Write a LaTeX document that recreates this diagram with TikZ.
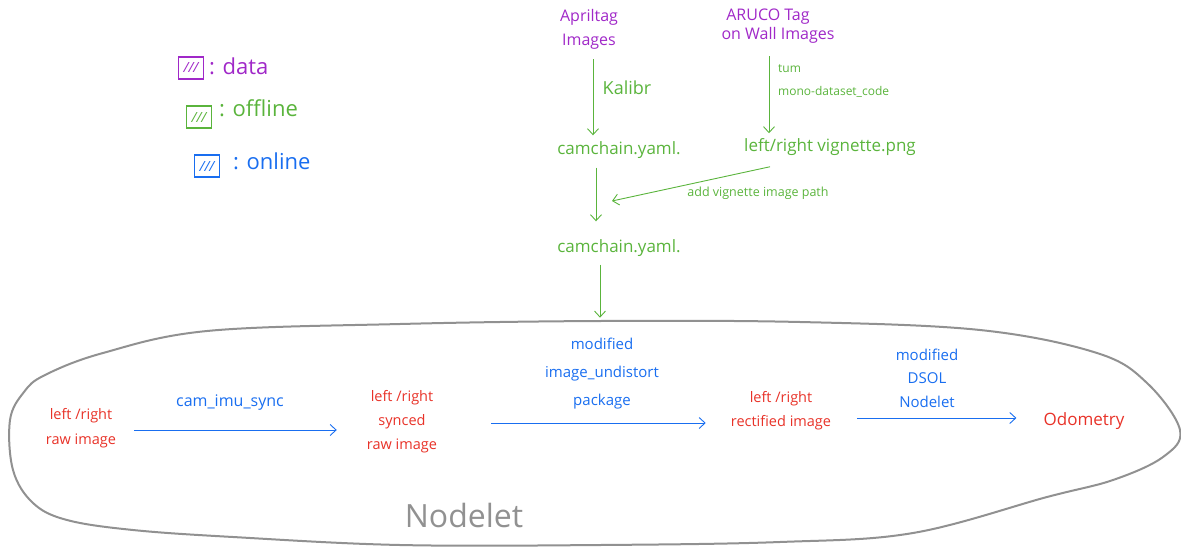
\documentclass[tikz,border=0pt]{standalone}
\usepackage{fontspec}
\setmainfont{Open Sans}
\usetikzlibrary{arrows.meta}
\definecolor{cdata}{RGB}{160,40,200}
\definecolor{coff}{RGB}{90,180,60}
\definecolor{con}{RGB}{25,110,240}
\definecolor{cout}{RGB}{232,50,40}
\definecolor{cgray}{RGB}{145,145,145}
\tikzset{
  fs/.style={font=\fontsize{#1}{#1}\selectfont},
  txt/.style={inner sep=1pt, align=center},
  arr/.style={-{Straight Barb[length=6pt,width=11pt]}, line width=0.9pt},
  legbox/.style={draw, line width=1.6pt, minimum width=25pt, minimum height=22pt, inner sep=0pt, font=\fontsize{14}{14}\selectfont\itshape}
}
\begin{document}
\begin{tikzpicture}[x=1pt,y=-1pt]
\useasboundingbox (0,0) rectangle (1181,552);
% legend
\node[legbox, draw=cdata, text=cdata] (k1) at (191,68) {///};
\node[txt, fs=22, text=cdata, anchor=west] (t1) at (208,66) {: data};
\node[legbox, draw=coff, text=coff] (k2) at (199,117) {///};
\node[txt, fs=22, text=coff, anchor=west] (t2) at (218,108) {: offline};
\node[legbox, draw=con, text=con] (k3) at (207,166) {///};
\node[txt, fs=22, text=con, anchor=west] (t3) at (232,161) {: online};
% top data
\node[txt, text=cdata, font=\fontsize{16}{24}\selectfont] (apr) at (589,29) {Apriltag\\Images};
\node[txt, text=cdata, font=\fontsize{16}{19}\selectfont] (aru) at (768,26) {ARUCO Tag\\\hspace*{20pt}on Wall Images};
\node[txt, fs=17, text=coff] (cam1) at (619,150) {camchain.yaml.};
\node[txt, fs=17, text=coff] (vig) at (830,147) {left/right vignette.png};
\node[txt, fs=17, text=coff] (cam2) at (619,248) {camchain.yaml.};
\node[txt, fs=18, text=coff] (kal) at (627,88) {Kalibr};
\node[txt, text=coff, align=left, anchor=west, font=\fontsize{12}{23}\selectfont] (tum) at (777,81) {tum\\mono-dataset\_code};
\node[txt, fs=12.5, text=coff] (addv) at (758,193) {add vignette image path};
\coordinate (vend) at (612,201);
\draw[arr, coff] ([xshift=4pt,yshift=-9pt]apr.south) -- ([xshift=-26pt,yshift=5pt]cam1.north);
\draw[arr, coff] ([xshift=1pt,yshift=-12pt]aru.south) -- ([xshift=-61pt,yshift=4pt]vig.north);
\draw[arr, coff] ([xshift=-23pt,yshift=-8pt]cam1.south) -- ([xshift=-23pt,yshift=17pt]cam2.north);
\draw[arr, coff] ([xshift=-60pt,yshift=-10pt]vig.south) -- (vend);
\draw[arr, coff] ([xshift=-19pt,yshift=-7pt]cam2.south) -- ++(0,53) coordinate (inlet);
% nodelet blob
\draw[cgray, line width=2pt] plot[smooth cycle, tension=0.6] coordinates {
 (10,420) (13,470) (33,503) (67,520) (133,530) (233,537) (400,545) (600,545) (780,542)
 (913,533) (1047,497) (1113,480) (1163,457) (1180,430) (1147,383) (1097,353) (980,330)
 (800,322) (600,321) (400,324) (207,331) (103,353) (45,375) (24,392)};
\node[txt, fs=32, text=cgray] (nlet) at (464,515) {Nodelet};
% bottom row
\node[txt, text=cout, font=\fontsize{14.5}{25}\selectfont] (raw) at (81,428) {left /right\\raw image};
\node[txt, text=cout, font=\fontsize{14.5}{24}\selectfont] (syn) at (402,422) {left /right\\synced\\raw image};
\node[txt, text=cout, font=\fontsize{14.5}{24}\selectfont] (rect) at (781,411) {left /right\\rectified image};
\node[txt, fs=17, text=cout] (odo) at (1084,421) {Odometry};
\node[txt, fs=16, text=con] (l1) at (230,403) {cam\_imu\_sync};
\node[txt, text=con, font=\fontsize{15}{28}\selectfont] (l2) at (602,374) {modified\\image\_undistort\\package};
\node[txt, text=con, font=\fontsize{15}{23.5}\selectfont] (l3) at (927,378) {modified\\DSOL\\Nodelet};
\draw[arr, con] ([xshift=17pt]raw.east |- 0,430) -- ([xshift=-29pt]syn.west |- 0,430);
\draw[arr, con] ([xshift=53pt]syn.east |- 0,423) -- ([xshift=-24pt]rect.west |- 0,423);
\draw[arr, con] ([xshift=25pt]rect.east |- 0,418) -- ([xshift=-26pt]odo.west |- 0,418);
\end{tikzpicture}
\end{document}
